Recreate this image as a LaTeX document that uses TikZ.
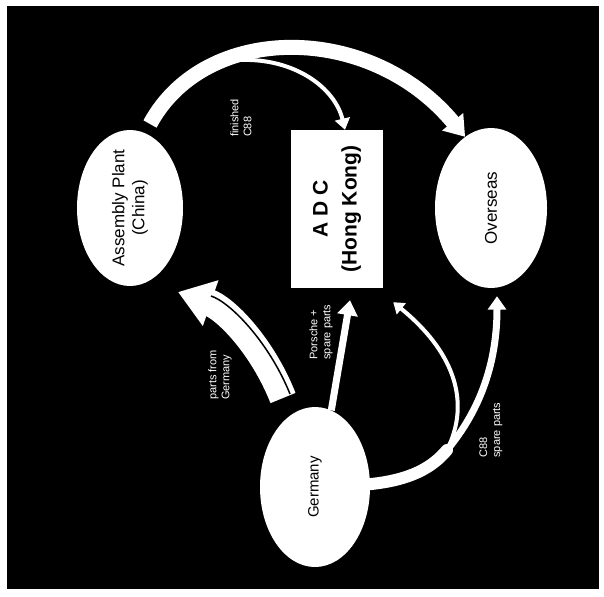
\documentclass[tikz,border=0pt]{standalone}
\usepackage{fontspec}
\setmainfont{Liberation Sans}
\usetikzlibrary{shapes.geometric,arrows.meta}
\begin{document}
\begin{tikzpicture}[x=1pt,y=-1pt,
  place/.style={ellipse,fill=white,inner sep=0pt},
  flow/.style={draw=white,line cap=butt},
  lab/.style={rotate=90,align=left,text=white,font=\fontsize{11}{13}\selectfont},
  big/.style={rotate=90,align=center,text=black,font=\fontsize{17}{20}\selectfont},
  head/.style={-{Triangle[width=#1,length=0.75*#1]}}
]
\useasboundingbox (0,0) rectangle (604,596);
\fill[white] (0,0) rectangle (604,596);
\fill[black] (7,6) rectangle (599,589);

% nodes
\node[place,minimum width=106pt,minimum height=156pt,
  label={[big]center:{Assembly Plant\\(China)}}] (ap) at (130,208) {};
\node[rectangle,fill=white,inner sep=0pt,minimum width=92pt,minimum height=158pt,
  label={[rotate=90,align=center,font=\bfseries\fontsize{21}{29}\selectfont]center:{A D C\\(Hong Kong)}}] (adc) at (337,209) {};
\node[place,minimum width=112pt,minimum height=160pt,
  label={[big]center:Overseas}] (ov) at (491,208) {};
\node[place,minimum width=110pt,minimum height=160pt,
  label={[big,font=\fontsize{15}{18}\selectfont]center:Germany}] (ge) at (315,487) {};

\coordinate (a1) at (150,124);
\coordinate (sp1) at (240,60);
\coordinate (sp2) at (447,450);
\coordinate (g1) at (283,398);
\coordinate (tipap) at (178,292);

% finished C88
\draw[flow,line width=15pt,head=26pt] (a1) .. controls (205,22) and (370,22) .. (ov.110);
\draw[flow,line width=4pt,head=15pt] (sp1) .. controls (295,58) and (335,88) .. ([xshift=8pt]adc.north);

% parts from Germany
\draw[flow,line width=27pt,head=46pt] (g1) .. controls (262,345) and (225,308) .. (tipap);
\draw[black,line width=1.5pt] (290,394) .. controls (269,342) and (230,302) .. (211,296);

% Porsche + spare parts
\draw[flow,line width=7pt,head=20pt] (ge.78) -- ([xshift=13pt,yshift=-12pt]adc.south);

% C88 spare parts
\draw[flow,line width=12pt,line cap=round] (ge.3) .. controls (410,480) and (432,468) .. (sp2);
\draw[flow,line width=7pt,head=18pt] (sp2) .. controls (482,408) and (497,360) .. ([xshift=6pt,yshift=-8pt]ov.south);
\draw[flow,line width=4pt,head=14pt] (sp2) .. controls (472,400) and (452,350) .. ([xshift=10pt,yshift=-14pt]adc.south east);

% labels
\node[lab] (l1) at (241,118) {finished\\C88};
\node[lab] (l2) at (220,375) {parts from\\Germany};
\node[lab] (l3) at (321,332) {Porsche +\\spare parts};
\node[lab] (l4) at (491,430) {C88\\spare parts};
\end{tikzpicture}
\end{document}
